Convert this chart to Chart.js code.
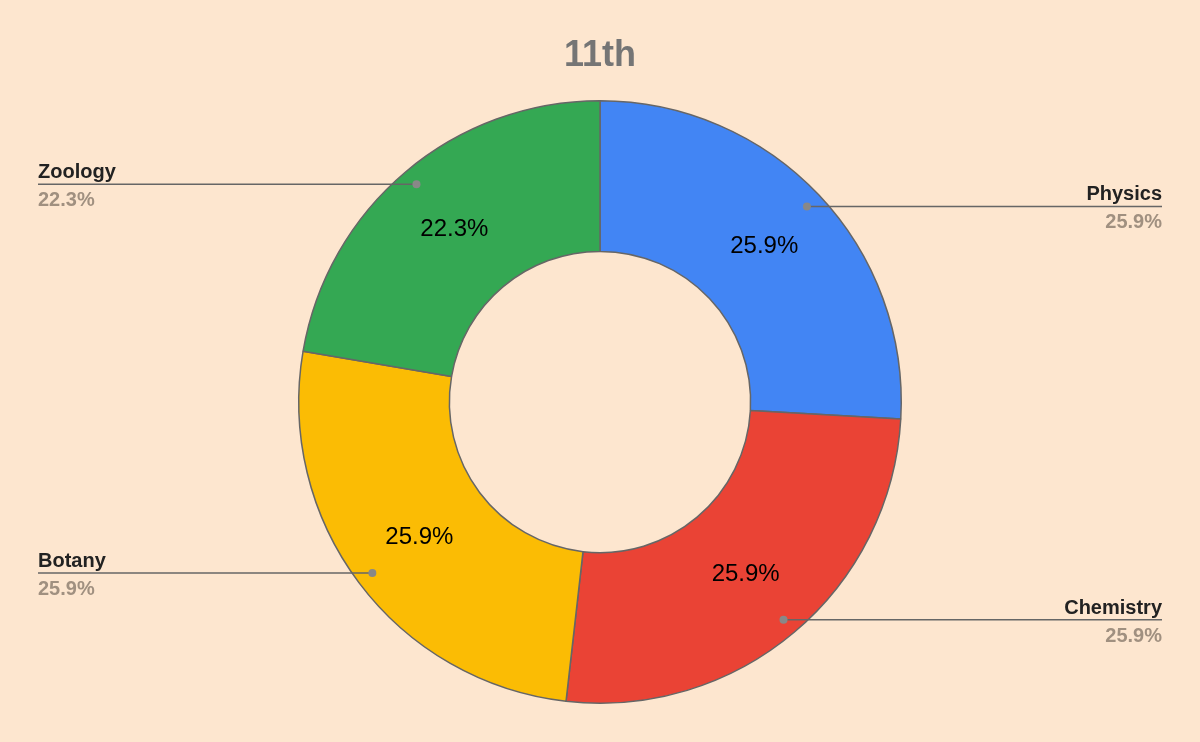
<!DOCTYPE html>
<html><head><script src="https://cdn.jsdelivr.net/npm/chart.js@4"></script>
<style>html,body{margin:0;background:#fde6cf}</style></head>
<body><canvas id="c" width="1200" height="742" style="width:1200px;height:742px"></canvas>
<script>
const categories=["Physics","Chemistry","Botany","Zoology"];
const values=[25.9,25.9,25.9,22.3];
const colors=["#4285f4","#ea4335","#fbbc04","#34a853"];
const title="11th";
const F="'Liberation Sans', Arial, sans-serif";
const deco={id:'deco',afterDatasetsDraw(ch){
 const c=ch.ctx,meta=ch.getDatasetMeta(0);
 c.save();
 c.fillStyle='#757575';c.font='bold 36px '+F;c.textAlign='center';c.textBaseline='middle';
 c.fillText(title,600,56);
 meta.data.forEach((a,i)=>{
  const p=a.getProps(['x','y','startAngle','endAngle','innerRadius','outerRadius']);
  const m=(p.startAngle+p.endAngle)/2;
  const rm=(p.innerRadius+p.outerRadius)/2;
  c.fillStyle='#000';c.font='24px '+F;c.textAlign='center';c.textBaseline='middle';
  c.fillText(values[i].toFixed(1)+'%',p.x+Math.cos(m)*rm,p.y+Math.sin(m)*rm);
  const rd=p.outerRadius*0.945;
  const dx=p.x+Math.cos(m)*rd,dy=p.y+Math.sin(m)*rd;
  const right=Math.cos(m)>0;const ex=right?1162:38;
  c.strokeStyle='#666';c.lineWidth=1.5;c.beginPath();c.moveTo(dx,dy);c.lineTo(ex,dy);c.stroke();
  c.fillStyle='#888';c.beginPath();c.arc(dx,dy,4,0,Math.PI*2);c.fill();
  c.textAlign=right?'right':'left';c.textBaseline='alphabetic';
  c.fillStyle='#222';c.font='bold 20px '+F;c.fillText(categories[i],ex,dy-6);
  c.fillStyle='#a09080';c.fillText(values[i].toFixed(1)+'%',ex,dy+22);
 });
 c.restore();
}};
new Chart(document.getElementById('c'),{type:'doughnut',
 data:{labels:categories,datasets:[{data:values,backgroundColor:colors,borderColor:'#666',borderWidth:1.5}]},
 options:{responsive:false,animation:false,cutout:'50%',layout:{padding:{top:100,bottom:38}},
  plugins:{legend:{display:false},tooltip:{enabled:false}}},
 plugins:[deco]});
</script></body></html>
